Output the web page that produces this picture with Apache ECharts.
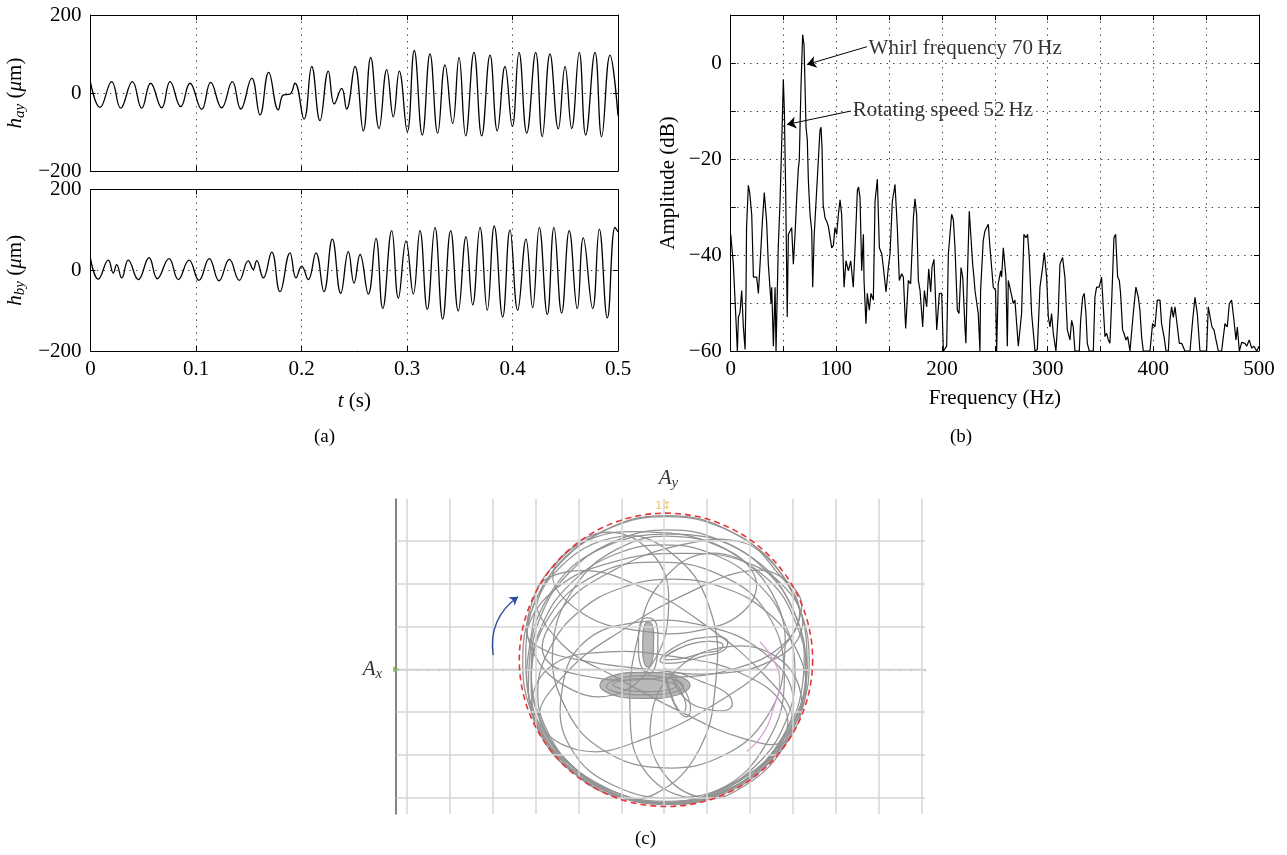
<!DOCTYPE html>
<html><head><meta charset="utf-8">
<script src="https://cdn.jsdelivr.net/npm/echarts@6/dist/echarts.min.js"></script>
<style>html,body{margin:0;padding:0;background:#fff}#chart{width:1287px;height:855px}</style>
</head><body><div id="chart"></div>
<script>
// ---------- data (a): displacement time histories ----------
const hayT = [0, 0.009, 0.0201, 0.0286, 0.0397, 0.0485, 0.0570, 0.0675, 0.0754, 0.0855, 0.0943, 0.1054, 0.1139, 0.1243, 0.1344, 0.1424, 0.1528, 0.1607, 0.1689, 0.1780, 0.1828, 0.1891, 0.1938, 0.2024, 0.2097, 0.2175, 0.2254, 0.2311, 0.2381, 0.2428, 0.2507, 0.2586, 0.2656, 0.2735, 0.2808, 0.2870, 0.2927, 0.3003, 0.3069, 0.3145, 0.3218, 0.3291, 0.3360, 0.3433, 0.3493, 0.3556, 0.3635, 0.3708, 0.3787, 0.3856, 0.3929, 0.3998, 0.4062, 0.4135, 0.4220, 0.4282, 0.4355, 0.4434, 0.4498, 0.4561, 0.4633, 0.4694, 0.4782, 0.4845, 0.4924, 0.5];
const hayV = [27, -37, 29, -39, 29, -39, 25, -38, 29, -35, 25, -42, 27, -38, 29, -41, 38, -56, 53, -43, -5, -3, 25, -67, 68, -71, 56, -28, 12, -41, 68, -97, 91, -91, 60, -61, 56, -99, 109, -108, 100, -103, 72, -78, 91, -110, 104, -110, 97, -97, 68, -86, 104, -103, 104, -112, 100, -92, 68, -91, 104, -108, 104, -112, 97, -58];
const hbyT = [0, 0.0074, 0.0169, 0.0216, 0.0248, 0.0296, 0.0358, 0.0453, 0.0555, 0.0633, 0.0744, 0.0832, 0.0934, 0.1028, 0.1126, 0.1218, 0.1316, 0.1410, 0.1496, 0.1543, 0.1575, 0.1638, 0.1718, 0.1796, 0.1891, 0.1948, 0.2002, 0.2064, 0.2137, 0.2213, 0.2292, 0.2372, 0.2444, 0.2498, 0.2555, 0.2633, 0.2706, 0.2770, 0.2855, 0.2918, 0.2991, 0.3060, 0.3123, 0.3192, 0.3265, 0.3338, 0.3414, 0.3486, 0.3559, 0.3623, 0.3692, 0.3761, 0.3827, 0.3907, 0.3976, 0.4049, 0.4128, 0.4191, 0.4254, 0.4330, 0.4393, 0.4466, 0.4538, 0.4614, 0.4671, 0.4760, 0.4823, 0.4899, 0.4972, 0.5];
const hbyV = [29, -22, 25, -7, 14, -19, 25, -23, 31, -21, 29, -23, 25, -25, 29, -26, 27, -25, 23, 2, 24, -19, 45, -53, 43, -19, 10, -23, 43, -53, 77, -57, 46, -32, 39, -59, 79, -95, 98, -69, 73, -59, 98, -97, 106, -121, 98, -101, 83, -86, 106, -99, 110, -116, 100, -99, 77, -93, 106, -110, 106, -106, 98, -95, 80, -95, 102, -118, 106, 95];

// ---------- data (b): amplitude spectrum ----------
const specHz = [0, 2.5, 5, 6.3, 7.3, 8.8, 10.4, 12, 13.6, 14.5, 15, 16.7, 18, 19.9, 21.5, 24.6, 26.2, 28.4, 30, 31.8, 34, 35.6, 38.2, 38.8, 40.4, 42, 42.9, 45, 46.7, 48.5, 49.8, 50.8, 51.5, 52, 52.7, 53.5, 54.6, 57.7, 59.3, 60.9, 62.5, 64, 64.9, 66.5, 68.1, 69.4, 71.3, 72.5, 73.5, 75.1, 76.7, 77.6, 79, 80.5, 82.5, 84.5, 85.5, 86.5, 87.5, 89.3, 90.9, 92.4, 95.6, 97.2, 98.7, 100.3, 101.9, 103.5, 105, 107.3, 109.1, 111.4, 113.6, 116, 117.7, 119.9, 121, 122.4, 124, 125.6, 126.2, 128, 129.3, 131.2, 132.8, 135, 136.6, 138.8, 140.7, 143, 144.5, 147, 149.2, 150.8, 153, 155.5, 157.7, 159.6, 161.8, 163.4, 165.6, 168.1, 170.3, 172.9, 174.4, 176, 177.6, 179.2, 181.7, 183.3, 185.5, 187.4, 189.3, 190.5, 192.4, 195, 197.5, 199.7, 200.6, 201.3, 204.4, 206, 209.1, 210.7, 212.3, 214.5, 216.1, 218, 219.6, 221.7, 222.6, 223.9, 225.8, 227.1, 229, 230.2, 231.2, 232.7, 234.3, 235.9, 236.5, 239, 240.6, 243.8, 245.4, 248.5, 250.7, 251.7, 253.2, 255.5, 256.4, 258, 260.5, 261.8, 262.7, 264.9, 267.4, 269, 272.2, 275.3, 277.5, 279.4, 281, 282.6, 284.8, 288, 290.2, 292.7, 295.2, 296.8, 299, 300.6, 302.2, 303.7, 305.3, 307.8, 310, 311.6, 314.1, 316.3, 318.6, 321.1, 322.7, 324.2, 325.8, 329.9, 331.2, 333.1, 334.6, 336.2, 337.5, 339.4, 343.2, 344.7, 346.3, 348.8, 351, 352.6, 354.2, 355.8, 357.4, 358.9, 360.5, 362.7, 364.3, 366.2, 367.8, 369, 370.9, 372.2, 374.1, 375.7, 377.9, 381, 383.5, 385.8, 387.3, 388.9, 390.5, 396.8, 399.3, 401.5, 403.7, 406.3, 407.8, 410.1, 412, 414.2, 415.7, 417.3, 418.9, 420.5, 422, 424.6, 426.8, 429.9, 434.7, 437.2, 439.4, 441.6, 444.1, 450.4, 452, 453.6, 455.5, 457.4, 459.3, 461.5, 464.6, 467.8, 470, 471.9, 474.1, 476.3, 478.2, 479.5, 481.4, 483.6, 486.7, 488.3, 490.8, 493, 495.2, 497.8, 499.3, 500];
const specDb = [-35.7, -41.9, -53.6, -60, -52.9, -52, -47.4, -55, -59.7, -47.4, -34.3, -25.5, -27, -31.6, -44.6, -44.6, -48, -39.5, -33, -27, -33, -41.9, -50.1, -46.7, -59, -46.7, -60, -38.5, -28.8, -15, -3.4, -10, -20, -26, -26, -52.9, -35.7, -34.3, -41.9, -35.7, -28, -22, -20.3, -5, 5.9, 3.8, -13.4, -16, -24.4, -31.6, -35, -46.7, -36, -30, -22, -14, -13.4, -18, -29.5, -32.3, -33, -34, -38.5, -38, -34.3, -35.7, -31.6, -28.5, -31.6, -46.7, -41.2, -43.3, -41.2, -46.7, -38.5, -26.5, -25.8, -28.1, -43.3, -35.7, -45.3, -54.3, -48, -51.5, -48, -49.4, -28.8, -24.2, -38.5, -39.8, -42.6, -47.7, -42.6, -39.8, -28.8, -25.3, -34.3, -45.3, -43.9, -44.6, -55.3, -45.3, -46, -32.3, -28.3, -31.6, -45.3, -47.4, -55, -47.4, -50.8, -42.9, -47.7, -42.6, -40.9, -55.6, -48, -48, -55, -60, -59, -39.8, -31.5, -32.6, -38.5, -51.5, -52.2, -42.6, -44.6, -55, -58.4, -45.3, -30.9, -30.9, -41.9, -44.6, -47.4, -47.4, -52.2, -60, -47.4, -37, -35, -33.6, -38.5, -46.7, -47.4, -60, -46, -43.3, -44.6, -38.5, -44.6, -59, -45.3, -47.4, -50.1, -49.4, -59, -52.2, -35.7, -36.4, -35.7, -40.5, -52.2, -60, -59.7, -46.7, -42.6, -39.5, -44.6, -52.9, -55, -52.2, -56.3, -60, -52.2, -41.9, -40.5, -44.6, -55.6, -57.7, -53.6, -55, -60, -60, -53.6, -48.8, -48, -52.2, -58.4, -60, -60, -48.8, -46.7, -46.7, -44.6, -50.8, -57, -56.3, -57.7, -58.4, -50.1, -36.4, -35.7, -44.6, -45.3, -48, -55.6, -56.3, -57.7, -57, -60, -52.2, -46.7, -48.8, -51.5, -57, -60, -60, -54.3, -55, -49.4, -49.4, -54.3, -57, -60, -60, -53.6, -50.8, -53, -50.8, -53.6, -58.4, -58.4, -60, -60, -53.6, -48.8, -52.2, -60, -60, -50.8, -50.8, -55, -55.6, -57.7, -60, -60, -54.3, -55, -50.1, -49.4, -53.6, -57.7, -55, -60, -58.2, -58.4, -59, -57.7, -59.4, -59, -60, -59.4, -59];
const annoText = ['Whirl frequency 70\u2009Hz', 'Rotating speed 52\u2009Hz'];
const annoFrom = [[129, 3.4], [113.8, -10]];
const annoTo = [[72.2, -0.3], [53.3, -12.8]];
const annoLabelAt = [[130.5, 3.1], [115.5, -9.9]];

// ---------- data (c): shaft orbit (grid units, closed loops) ----------
const orbitRim1 = [[3.38,0.2],[3.12,1.5],[2.42,2.58],[1.35,3.3],[0.05,3.56],[-1.25,3.3],[-2.32,2.58],[-3.05,1.48],[-3.3,0.2],[-3.06,-1.08],[-2.34,-2.18],[-1.24,-2.9],[0.05,-3.15],[1.35,-2.92],[2.44,-2.18],[3.14,-1.08]];
const orbitRim2 = [[3.3,0.05],[3.05,1.28],[2.36,2.31],[1.32,3.0],[0.1,3.25],[-1.12,3.0],[-2.16,2.31],[-2.86,1.28],[-3.1,0.05],[-2.88,-1.18],[-2.18,-2.22],[-1.12,-2.92],[0.1,-3.15],[1.32,-2.9],[2.36,-2.21],[3.05,-1.18]];
const orbitRim3 = [[3.05,-0.1],[2.82,1.05],[2.16,2.02],[1.17,2.67],[0,2.9],[-1.17,2.67],[-2.16,2.02],[-2.84,1.05],[-3.1,-0.1],[-2.86,-1.28],[-2.18,-2.24],[-1.17,-2.9],[0,-3.12],[1.17,-2.87],[2.16,-2.22],[2.82,-1.25]];
const orbitRim4 = [[3.3,-0.5],[3.06,0.5],[2.39,1.34],[1.39,1.9],[0.2,2.1],[-0.99,1.9],[-1.99,1.34],[-2.66,0.5],[-2.95,-0.5],[-2.7,-1.5],[-2.02,-2.36],[-0.99,-2.92],[0.2,-3.12],[1.35,-2.85],[2.3,-2.25],[2.95,-1.45]];
const orbitLoop1 = [[0.05,3.58],[1.7,3.13],[2.88,1.98],[3.33,0.3],[2.93,-1.38],[1.73,-2.62],[0.05,-3.08],[-1.63,-2.62],[-2.83,-1.43],[-3.23,0.25],[-2.83,1.93],[-1.58,3.13]];
const orbitLoop2 = [[0.3,3.15],[1.9,2.7],[2.95,1.5],[3.25,-0.1],[2.7,-1.7],[1.5,-2.8],[-0.2,-3.1],[-1.8,-2.6],[-2.9,-1.5],[-3.15,0.1],[-2.7,1.7],[-1.5,2.8]];
const orbitLoop3 = [[-0.2,2.5],[1.3,2.2],[2.4,1.3],[2.8,-0.2],[2.4,-1.7],[1.3,-2.8],[-0.3,-3.1],[-1.75,-2.6],[-2.8,-1.55],[-3.1,-0.2],[-2.7,1.2],[-1.6,2.2]];
const orbitLoop4 = [[-3.2,0.9],[-2.5,1.9],[-1.2,2.5],[0.4,2.7],[1.9,2.5],[2.95,1.75],[3.2,0.9],[2.5,0.2],[1.2,-0.1],[-0.4,0.0],[-1.9,0.2],[-2.9,0.5]];
const orbitLoop5 = [[-1.0,3.1],[0.3,2.6],[1.1,1.3],[1.2,-0.3],[0.8,-1.9],[-0.2,-2.9],[-1.2,-2.95],[-2.3,-2.2],[-3.1,-0.9],[-3.1,0.8],[-2.6,2.2]];
const orbitLoop6 = [[1.0,2.7],[2.3,2.2],[3.1,1.0],[3.3,-0.4],[2.7,-1.75],[1.7,-2.7],[0.6,-3.0],[-0.5,-2.3],[-0.8,-0.9],[-0.6,0.8],[-0.1,2.0]];
const orbitLoop7 = [[-2.8,0.3],[-2.4,1.4],[-1.2,2.3],[0.4,2.9],[1.85,2.95],[2.6,2.3],[3.15,1.4],[2.8,0.6],[1.6,0.0],[0.0,-0.2],[-1.6,-0.2]];
const orbitLoop8 = [[-3.1,-0.8],[-2.6,0.1],[-1.4,0.4],[0.2,0.3],[1.8,-0.1],[2.8,-0.9],[2.7,-1.8],[1.9,-2.6],[0.6,-3.05],[-1.0,-3.0],[-2.2,-2.35],[-2.8,-1.6]];
const orbitLoop9 = [[-2.4,-0.6],[-1.9,0.6],[-0.6,1.1],[1.0,1.0],[2.3,0.4],[3.0,-0.6],[2.65,-1.75],[1.7,-2.6],[0.3,-3.0],[-1.2,-2.7],[-2.2,-1.8]];
const orbitLoop10 = [[0.2,3.1],[1.6,2.7],[2.6,1.6],[2.8,0.2],[2.4,-1.1],[1.4,-2.0],[0.0,-2.3],[-1.4,-1.9],[-2.3,-0.9],[-2.6,0.5],[-2.1,1.9],[-1.1,2.8]];
const orbitLoop11 = [[-2.6,2.2],[-1.8,3.0],[-0.3,3.2],[1.2,2.9],[2.1,2.2],[1.9,1.4],[0.8,0.9],[-0.6,0.9],[-1.9,1.3]];
const orbitLoop12 = [[1.3,0.5],[2.6,0.3],[3.2,-0.7],[2.8,-1.8],[1.9,-2.7],[0.9,-3.0],[-0.1,-2.3],[-0.3,-1.1],[0.2,-0.1]];
const orbitLoop13 = [[-1.3,3.2],[-0.2,2.6],[0.1,1.4],[-0.3,0.1],[-1.2,-0.6],[-2.3,-0.4],[-3.1,0.5],[-3.1,1.5],[-2.4,2.6]];
const orbitLoop14 = [[-2.9,-1.2],[-2.3,-0.1],[-1.0,0.9],[0.6,1.8],[2.0,2.3],[2.8,2.1],[3.2,1.4],[2.5,0.2],[1.2,-0.8],[-0.4,-1.6],[-1.9,-1.9]];
const orbitLoop15 = [[-3.0,1.8],[-2.0,2.3],[-0.5,1.9],[1.0,1.0],[2.3,-0.1],[3.0,-1.1],[2.8,-1.7],[1.8,-1.6],[0.4,-1.0],[-1.1,-0.2],[-2.4,0.6]];
const orbitCore1 = [[-1.5,-0.37],[-1.2,-0.15],[-0.5,-0.07],[0.3,-0.15],[0.6,-0.37],[0.3,-0.6],[-0.5,-0.68],[-1.2,-0.6]];
const orbitCore2 = [[-1.35,-0.4],[-1.05,-0.22],[-0.5,-0.15],[0.15,-0.22],[0.45,-0.4],[0.15,-0.55],[-0.5,-0.6],[-1.05,-0.55]];
const orbitCore3 = [[-1.2,-0.35],[-0.9,-0.25],[-0.45,-0.22],[0.0,-0.28],[0.3,-0.38],[0.0,-0.5],[-0.45,-0.52],[-0.9,-0.48]];
const orbitLobeUp = [[-0.4,1.2],[-0.2,1.1],[-0.15,0.6],[-0.2,0.1],[-0.35,-0.1],[-0.55,0.1],[-0.6,0.6],[-0.55,1.1]];
const orbitLobeUp2 = [[-0.38,1.1],[-0.27,1.0],[-0.25,0.6],[-0.28,0.2],[-0.38,0.05],[-0.48,0.2],[-0.5,0.6],[-0.47,1.0]];
const orbitLobeRight = [[-0.1,0.2],[0.4,0.6],[1.0,0.75],[1.45,0.7],[1.4,0.45],[0.9,0.3],[0.3,0.15]];
const orbitLobeRight2 = [[0.0,0.25],[0.5,0.55],[1.0,0.65],[1.35,0.6],[1.3,0.45],[0.9,0.38],[0.4,0.25]];
const orbitLobeDown = [[0.0,0.0],[0.35,-0.3],[0.6,-0.8],[0.55,-1.1],[0.35,-1.0],[0.15,-0.6]];
const orbitLobeDown2 = [[0.05,-0.1],[0.3,-0.35],[0.5,-0.8],[0.45,-1.0],[0.3,-0.9],[0.15,-0.55]];
const orbitLoopSmall = [[0.2,-0.1],[0.9,-0.3],[1.5,-0.6],[1.55,-0.9],[1.1,-0.95],[0.5,-0.7]];
const orbitLoops = [orbitRim1, orbitRim2, orbitRim3, orbitRim4, orbitLoop1, orbitLoop2, orbitLoop3, orbitLoop4, orbitLoop5, orbitLoop6, orbitLoop7, orbitLoop8, orbitLoop9, orbitLoop10, orbitLoop11, orbitLoop12, orbitLoop13, orbitLoop14, orbitLoop15, orbitCore1, orbitCore2, orbitCore3, orbitLobeUp, orbitLobeUp2, orbitLobeRight, orbitLobeRight2, orbitLobeDown, orbitLobeDown2, orbitLoopSmall];
const orbitFilled = [orbitCore1, orbitLobeUp2];
const pinkTrace = [[2.23,0.64],[2.55,0.2],[2.69,-0.25],[2.55,-0.9],[2.3,-1.5],[1.92,-1.92]];
const boundCircle = [[0.04, 0.22, 3.42]];
const gridLinesX = [-6, -5, -4, -3, -2, -1, 0, 1, 2, 3, 4, 5, 6];
const gridLinesY = [-3, -2, -1, 0, 1, 2, 3];
const rotArrow = [[-3.99, 0.33], [-3.41, 1.69]];

// ---------- styling helpers ----------
const FONT = '"Liberation Serif", "Times New Roman", serif';
const FS = 21;
const DOT = [1.3, 5.2];
const minus = v => String(v).replace('-', '\u2212');
const rich = {
  i: { fontFamily: FONT, fontStyle: 'italic', fontSize: FS, color: '#000', lineHeight: 26 },
  s: { fontFamily: FONT, fontStyle: 'italic', fontSize: 15, color: '#000', lineHeight: 26, padding: [10, 0, 0, 0] },
  n: { fontFamily: FONT, fontSize: FS, color: '#000', lineHeight: 26 }
};
const nameStyle = { fontFamily: FONT, fontSize: FS, color: '#000', rich };
const labelStyle = { fontFamily: FONT, fontSize: FS, color: '#000' };

function boxX(grid, min, max, interval, opts) {
  const o = opts || {};
  return {
    type: 'value', gridIndex: grid, min, max, interval, position: o.top ? 'top' : 'bottom',
    axisLine: { show: true, onZero: false, lineStyle: { color: '#000', width: 1 } },
    axisTick: { show: true, inside: true, length: 5, lineStyle: { color: '#000' } },
    axisLabel: o.labels ? Object.assign({ margin: 8, formatter: o.fmt || (v => minus(v)) }, labelStyle) : { show: false },
    splitLine: o.split ? { show: true, lineStyle: { color: '#333', type: DOT, width: 1 } } : { show: false },
    name: o.name || '', nameLocation: 'middle', nameGap: o.nameGap || 38, nameTextStyle: nameStyle
  };
}
function boxY(grid, min, max, interval, opts) {
  const o = opts || {};
  return {
    type: 'value', gridIndex: grid, min, max, interval, position: o.right ? 'right' : 'left',
    axisLine: { show: true, onZero: false, lineStyle: { color: '#000', width: 1 } },
    axisTick: { show: true, inside: true, length: 5, lineStyle: { color: '#000' } },
    axisLabel: o.labels ? Object.assign({ margin: 9, formatter: o.fmt || (v => minus(v)) }, labelStyle) : { show: false },
    splitLine: o.split ? { show: true, lineStyle: { color: '#333', type: DOT, width: 1 } } : { show: false },
    name: o.name || '', nameLocation: 'middle', nameGap: o.nameGap || 60, nameRotate: 90, nameTextStyle: nameStyle
  };
}

const zip = (a, b) => a.map((v, i) => [v, b[i]]);

const xAxes = [
  boxX(0, 0, 0.5, 0.1, { split: true }),
  boxX(0, 0, 0.5, 0.1, { top: true }),
  boxX(1, 0, 0.5, 0.1, { split: true, labels: true, name: '{i|t} (s)', nameGap: 37 }),
  boxX(1, 0, 0.5, 0.1, { top: true }),
  boxX(2, 0, 500, 50, { split: true, labels: true, fmt: v => (v % 100 === 0 ? String(v) : ''), name: 'Frequency (Hz)', nameGap: 37 }),
  boxX(2, 0, 500, 50, { top: true }),
  {
    type: 'value', gridIndex: 3, min: -6.25, max: 6.08, interval: 0.25,
    axisLine: { show: true, onZero: true, lineStyle: { color: '#c8c8c8', width: 1.4 } },
    axisTick: { show: true, inside: false, length: 2, lineStyle: { color: '#b8b8b8' } },
    axisLabel: { show: false }, splitLine: { show: false }
  }
];
const yAxes = [
  boxY(0, -200, 200, 200, { split: true, labels: true, name: '{i|h}{s|ay} ({i|μ}m)', nameGap: 62 }),
  boxY(0, -200, 200, 200, { right: true }),
  boxY(1, -200, 200, 200, { split: true, labels: true, name: '{i|h}{s|by} ({i|μ}m)', nameGap: 62 }),
  boxY(1, -200, 200, 200, { right: true }),
  boxY(2, -60, 10, 10, { split: true, labels: true, fmt: v => (v % 20 === 0 ? minus(v) : ''), name: 'Amplitude (dB)', nameGap: 52 }),
  boxY(2, -60, 10, 10, { right: true }),
  {
    type: 'value', gridIndex: 3, min: -3.375, max: 3.97,
    axisLine: { show: true, onZero: false, lineStyle: { color: '#5a5a5a', width: 1.5 } },
    axisTick: { show: false }, axisLabel: { show: false }, splitLine: { show: false }
  }
];

function loopRenderer(list, filled) {
  return (params, api) => {
    const loop = list[api.value(0)];
    const pts = loop.map(p => api.coord(p));
    return {
      type: 'polygon',
      shape: { points: pts, smooth: 0.42 },
      style: filled ? { fill: 'rgba(128,128,128,0.55)', stroke: 'none' } : { fill: 'none', stroke: '#939393', lineWidth: 1.25 }
    };
  };
}

const series = [
  { type: 'line', xAxisIndex: 0, yAxisIndex: 0, data: zip(hayT, hayV), smooth: 0.45, symbol: 'none', lineStyle: { color: '#000', width: 1.3 }, z: 3 },
  { type: 'line', xAxisIndex: 2, yAxisIndex: 2, data: zip(hbyT, hbyV), smooth: 0.45, symbol: 'none', lineStyle: { color: '#000', width: 1.3 }, z: 3 },
  { type: 'line', xAxisIndex: 4, yAxisIndex: 4, data: zip(specHz, specDb), symbol: 'none', lineStyle: { color: '#000', width: 1.2 }, z: 3 },
  {
    type: 'lines', coordinateSystem: 'cartesian2d', xAxisIndex: 4, yAxisIndex: 4,
    symbol: ['none', 'arrow'], symbolSize: 9,
    lineStyle: { color: '#000', width: 1, opacity: 1 },
    data: annoFrom.map((p, i) => ({ coords: [p, annoTo[i]] })), z: 4
  },
  {
    type: 'scatter', xAxisIndex: 4, yAxisIndex: 4, symbolSize: 0,
    data: annoLabelAt.map((p, i) => ({ value: p, name: annoText[i] })),
    label: { show: true, position: 'right', distance: 0, formatter: p => p.name, fontFamily: FONT, fontSize: FS, color: '#000' }, z: 5
  },
  {
    type: 'line', xAxisIndex: 6, yAxisIndex: 6, data: [], z: 1, silent: true,
    markLine: {
      silent: true, symbol: 'none', label: { show: false },
      lineStyle: { color: '#d4d4d4', type: 'solid', width: 1.5 },
      data: gridLinesX.map(v => ({ xAxis: v })).concat(gridLinesY.map(v => ({ yAxis: v })))
    }
  },
  { type: 'custom', xAxisIndex: 6, yAxisIndex: 6, data: orbitFilled.map((l, i) => [i, 0]), renderItem: loopRenderer(orbitFilled, true), z: 2, silent: true },
  { type: 'custom', xAxisIndex: 6, yAxisIndex: 6, data: orbitLoops.map((l, i) => [i, 0]), renderItem: loopRenderer(orbitLoops, false), z: 3, silent: true },
  { type: 'line', xAxisIndex: 6, yAxisIndex: 6, data: pinkTrace, smooth: 0.5, symbol: 'none', lineStyle: { color: '#d9a3d6', width: 1.3 }, z: 4 },
  {
    type: 'custom', xAxisIndex: 6, yAxisIndex: 6, data: boundCircle, z: 5,
    renderItem: (params, api) => {
      const c = api.coord([api.value(0), api.value(1)]);
      const r = api.size([api.value(2), 0])[0];
      return { type: 'circle', shape: { cx: c[0], cy: c[1], r: r }, style: { fill: 'none', stroke: '#e8343b', lineWidth: 1.6, lineDash: [6, 4] } };
    }
  },
  {
    type: 'lines', coordinateSystem: 'cartesian2d', xAxisIndex: 6, yAxisIndex: 6,
    symbol: ['none', 'arrow'], symbolSize: 8,
    lineStyle: { color: '#2d4e9e', width: 1.4, curveness: 0.3, opacity: 1 },
    data: [{ coords: rotArrow }], z: 6
  },
  {
    type: 'scatter', xAxisIndex: 6, yAxisIndex: 6, z: 6,
    data: [{ value: [-6.25, 0], symbol: 'triangle', symbolRotate: -90, symbolSize: 6, itemStyle: { color: '#6cb33f' },
      label: { show: true, position: 'left', distance: 11, formatter: '{i|A}{s|x}', rich } }]
  },
  {
    type: 'scatter', xAxisIndex: 6, yAxisIndex: 6, z: 6, symbolSize: 0,
    data: [
      { value: [0.1, 3.97], label: { show: true, position: 'top', distance: 8, formatter: '{i|A}{s|y}', rich } },
      { value: [-0.02, 3.8], label: { show: true, position: 'inside', formatter: '1\u2195', fontSize: 11, color: '#f0b43a', fontFamily: 'DejaVu Sans' } }
    ]
  }
];

const option = {
  backgroundColor: '#fff',
  animation: false,
  grid: [
    { left: 90.5, top: 15, width: 527.5, height: 156 },
    { left: 90.5, top: 189.5, width: 527.5, height: 161.5 },
    { left: 730.7, top: 15, width: 528.3, height: 336 },
    { left: 396.2, top: 499, width: 528.8, height: 315 }
  ],
  xAxis: xAxes,
  yAxis: yAxes,
  series,
  graphic: [
    { type: 'text', left: 314, top: 428, style: { text: '(a)', font: '19px ' + FONT, fill: '#000' } },
    { type: 'text', left: 950, top: 428, style: { text: '(b)', font: '19px ' + FONT, fill: '#000' } },
    { type: 'text', left: 635, top: 830, style: { text: '(c)', font: '19px ' + FONT, fill: '#000' } }
  ]
};
const chart = echarts.init(document.getElementById('chart'), null, { renderer: 'canvas' });
chart.setOption(option);
</script>
</body></html>
